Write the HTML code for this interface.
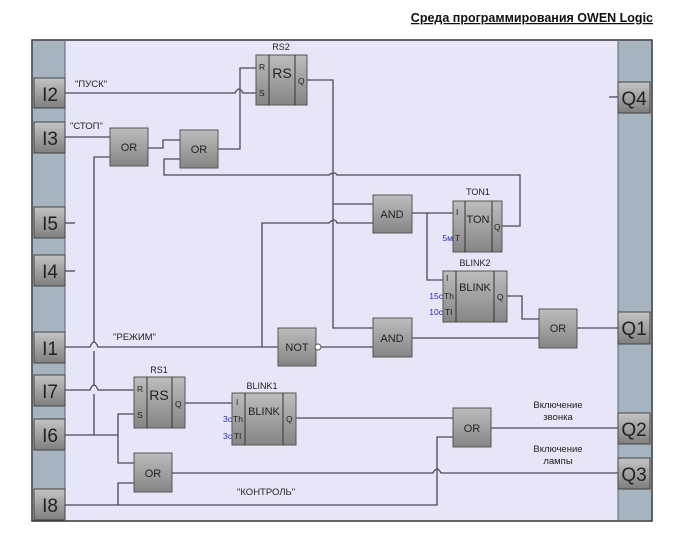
<!DOCTYPE html>
<html><head><meta charset="utf-8"><style>
html,body{margin:0;padding:0;background:#fff;}
svg{display:block;font-family:"Liberation Sans",sans-serif;}
</style></head><body>
<svg width="673" height="537" viewBox="0 0 673 537" xmlns="http://www.w3.org/2000/svg">
<defs>
<linearGradient id="g" x1="0" y1="0" x2="0" y2="1"><stop offset="0" stop-color="#bdbdbd"/><stop offset="1" stop-color="#858585"/></linearGradient>
<linearGradient id="g2" x1="0" y1="0" x2="0" y2="1"><stop offset="0" stop-color="#c4c4c4"/><stop offset="1" stop-color="#7e7e7e"/></linearGradient>
</defs>
<text x="653" y="22" font-size="12.5" font-weight="bold" text-anchor="end" text-decoration="underline" fill="#111">Среда программирования OWEN Logic</text>
<rect x="32" y="40" width="620" height="481" fill="#e6e6f8" stroke="#333" stroke-width="1.5"/>
<rect x="33" y="41" width="32" height="479" fill="#a5b4be"/>
<rect x="618" y="41" width="33" height="479" fill="#a5b4be"/>
<line x1="65" y1="40" x2="65" y2="521" stroke="#666"/>
<line x1="618" y1="40" x2="618" y2="521" stroke="#666"/>
<g fill="url(#g2)" stroke="#444" stroke-width="1">
<rect x="34" y="78" width="31" height="30"/><rect x="34" y="122" width="31" height="31"/>
<rect x="34" y="207" width="31" height="31"/><rect x="34" y="255" width="31" height="31"/>
<rect x="34" y="332" width="31" height="31"/><rect x="34" y="375" width="31" height="31"/>
<rect x="34" y="419" width="31" height="31"/><rect x="34" y="489" width="31" height="31"/>
<rect x="618" y="82" width="32" height="31"/><rect x="618" y="312" width="32" height="32"/>
<rect x="618" y="413" width="32" height="31"/><rect x="618" y="458" width="32" height="31"/>
</g>
<g font-size="19" fill="#222" text-anchor="middle">
<text x="50" y="101">I2</text><text x="50" y="145">I3</text><text x="50" y="230">I5</text><text x="50" y="278">I4</text>
<text x="50" y="355">I1</text><text x="50" y="398">I7</text><text x="50" y="442">I6</text><text x="50" y="512">I8</text>
<text x="634" y="105">Q4</text><text x="634" y="335">Q1</text><text x="634" y="436">Q2</text><text x="634" y="481">Q3</text>
</g>
<g fill="none" stroke="#4a4a5a" stroke-width="1.3">
<path d="M65 93 H235 q4 -8 8 0 H256"/>
<path d="M218 149 H240 V68 H256"/>
<path d="M65 137 H110"/>
<path d="M148 148 H163 V140 H180"/>
<path d="M180 159 H164 V175 H329 q4 -3 0 0 q6 -4 8 0 H520 V226 H502"/>
<path d="M307 80 H333 V328 H373"/>
<path d="M333 204 H373"/>
<path d="M373 223 H337 q-2 -6 -8 0 H262 V347"/>
<path d="M65 347 H90 q4 -10 8 0 H278"/>
<path d="M320 347 H373"/>
<path d="M412 213 H453"/>
<path d="M427 213 V280 H443"/>
<path d="M507 296 H522 V319 H539"/>
<path d="M412 338 H539"/>
<path d="M577 328 H618"/>
<path d="M609 97 H618"/>
<path d="M65 223 H75"/><path d="M65 271 H75"/>
<path d="M110 157 H94 V343 q0 0 0 0"/>
<path d="M94 351 V386 M94 394 V435"/>
<path d="M65 390 H90 q4 -10 8 0 H134"/>
<path d="M65 435 H118"/>
<path d="M134 414 H118 V463 H134"/>
<path d="M65 505 H437 V437 H453"/>
<path d="M118 505 V483 H134"/>
<path d="M172 473 H433 q4 -8 8 0 H618"/>
<path d="M185 403 H232"/>
<path d="M296 418 H453"/>
<path d="M491 428 H618"/>
</g>
<g fill="url(#g)" stroke="#555" stroke-width="1">
<rect x="110" y="128" width="38" height="38"/>
<rect x="180" y="130" width="38" height="38"/>
<rect x="373" y="195" width="39" height="38"/>
<rect x="373" y="318" width="39" height="39"/>
<rect x="278" y="328" width="38" height="38"/>
<rect x="539" y="309" width="38" height="39"/>
<rect x="453" y="408" width="38" height="39"/>
<rect x="134" y="453" width="38" height="39"/>
<rect x="256" y="55" width="51" height="50"/>
<rect x="453" y="201" width="49" height="51"/>
<rect x="443" y="271" width="64" height="51"/>
<rect x="134" y="377" width="51" height="51"/>
<rect x="232" y="393" width="64" height="52"/>
</g>
<g stroke="#333" stroke-width="1">
<path d="M269 55V105M295 55V105M465 201V252M492 201V252M456 271V322M494 271V322M147 377V428M172 377V428M245 393V445M283 393V445"/>
</g>
<circle cx="318" cy="347" r="3" fill="#fff" stroke="#555"/>
<g font-size="11" fill="#222" text-anchor="middle">
<text x="129" y="151">OR</text><text x="199" y="153">OR</text>
<text x="392" y="218">AND</text><text x="392" y="342">AND</text>
<text x="297" y="351">NOT</text><text x="558" y="332">OR</text>
<text x="472" y="432">OR</text><text x="153" y="477">OR</text>
<text x="282" y="78" font-size="14">RS</text><text x="478" y="223">TON</text>
<text x="475" y="291">BLINK</text><text x="159" y="400" font-size="14">RS</text>
<text x="264" y="415">BLINK</text>
<text x="281" y="50" font-size="9">RS2</text><text x="478" y="195" font-size="9">TON1</text>
<text x="475" y="266" font-size="9">BLINK2</text><text x="159" y="373" font-size="9">RS1</text>
<text x="262" y="389" font-size="9">BLINK1</text>
</g>
<g font-size="8.5" fill="#222">
<text x="259" y="70">R</text><text x="259" y="96">S</text><text x="298" y="84">Q</text>
<text x="456" y="215">I</text><text x="455" y="241">T</text><text x="494" y="230">Q</text>
<text x="446" y="281">I</text><text x="444" y="299">Th</text><text x="445" y="315">Tl</text><text x="497" y="300">Q</text>
<text x="137" y="392">R</text><text x="137" y="418">S</text><text x="175" y="407">Q</text>
<text x="236" y="405">I</text><text x="233" y="422">Th</text><text x="234" y="439">Tl</text><text x="286" y="422">Q</text>
</g>
<g font-size="8.5" fill="#2b2bb0" text-anchor="end">
<text x="453" y="241">5м</text><text x="443" y="299">15с</text><text x="443" y="315">10с</text>
<text x="232" y="422">3с</text><text x="232" y="439">3с</text>
</g>
<g font-size="9.5" fill="#222">
<text x="75" y="87">"ПУСК"</text><text x="70" y="129">"СТОП"</text>
<text x="113" y="340">"РЕЖИМ"</text><text x="237" y="495">"КОНТРОЛЬ"</text>
<text x="558" y="408" text-anchor="middle">Включение</text><text x="558" y="420" text-anchor="middle">звонка</text>
<text x="558" y="452" text-anchor="middle">Включение</text><text x="558" y="464" text-anchor="middle">лампы</text>
</g>
</svg>
</body></html>
